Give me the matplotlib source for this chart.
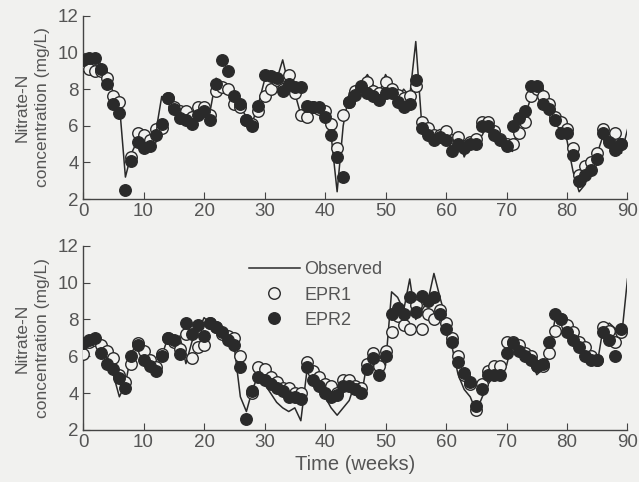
import matplotlib
matplotlib.use("Agg")
import matplotlib.pyplot as plt
import numpy as np

plt.rcParams['font.family'] = ['Liberation Sans', 'DejaVu Sans']

# --- data, weekly values ---
weeks = np.arange(0, 91)

top_observed = [9.6, 9.8, 9.9, 9.3, 8.8, 7.8, 7.2, 3.2, 4.5, 5.2,
                5.0, 5.1, 5.6, 7.6, 7.5, 7.2, 6.8, 6.5, 6.3, 6.8,
                7.0, 6.8, 8.6, 8.2, 7.8, 7.3, 7.0, 6.5, 6.2, 7.2,
                8.5, 9.0, 8.5, 9.6, 8.2, 7.8, 6.6, 6.5, 7.0, 7.0,
                6.8, 5.5, 2.4, 6.0, 7.8, 8.0, 8.3, 8.8, 8.2, 7.8,
                8.8, 8.2, 7.5, 8.0, 7.6, 10.6, 6.0, 5.8, 5.3, 5.8,
                5.5, 4.5, 5.5, 4.3, 5.0, 5.0, 5.5, 6.2, 5.5, 5.2,
                4.8, 4.6, 6.2, 6.5, 7.5, 8.2, 8.0, 7.2, 6.8, 6.0,
                5.2, 3.5, 2.4, 2.8, 3.8, 4.5, 5.5, 5.2, 4.8, 4.5,
                5.8]
top_epr1 = [9.3, 9.1, 9.0, 9.0, 8.6, 7.6, 7.3, np.nan, 4.3, 5.6,
            5.5, 5.2, 5.8, 5.9, 7.5, 7.0, 6.8, 6.8, 6.5, 7.0,
            7.0, 6.6, 7.9, 8.1, 8.0, 7.2, 7.0, 6.3, 6.1, 6.8,
            7.6, 8.0, 8.5, 8.0, 8.8, 7.8, 6.6, 6.5, 7.0, 6.9,
            6.8, 6.1, 4.8, 6.6, 7.3, 7.9, 8.0, 8.4, 7.9, 7.8,
            8.4, 8.0, 7.7, 7.5, 7.6, 8.2, 6.2, 5.9, 5.5, 5.5,
            5.7, 5.2, 5.4, 4.9, 5.1, 5.3, 6.2, 6.2, 5.7, 5.3,
            5.0, 5.0, 5.6, 6.2, 7.6, 8.0, 7.6, 7.2, 6.5, 6.2,
            5.8, 4.8, 3.3, 3.8, 4.0, 4.5, 5.8, 5.3, 5.6, 5.0,
            np.nan]
top_epr2 = [9.6, 9.7, 9.7, 9.1, 8.3, 7.2, 6.7, 2.5, 4.1, 5.1,
            4.8, 4.9, 5.5, 6.1, 7.5, 6.9, 6.4, 6.3, 6.1, 6.6,
            6.8, 6.3, 8.3, 9.6, 9.0, 7.6, 7.2, 6.3, 6.0, 7.1,
            8.8, 8.7, 8.6, 7.9, 8.3, 8.1, 8.1, 7.1, 7.0, 7.0,
            6.5, 5.5, 4.3, 3.2, 7.3, 7.7, 8.2, 7.8, 7.6, 7.4,
            7.8, 7.8, 7.3, 7.0, 7.2, 8.5, 5.9, 5.5, 5.2, 5.4,
            5.2, 4.6, 5.0, 4.8, 5.0, 5.0, 6.0, 6.0, 5.5, 5.2,
            4.9, 6.0, 6.4, 6.8, 8.2, 8.2, 7.2, 6.9, 6.3, 5.6,
            5.6, 4.4, 3.0, 3.3, 3.6, 4.2, 5.6, 5.1, 4.7, 5.0,
            np.nan]

bot_observed = [6.8, 7.0, 7.0, 6.4, 5.8, 5.0, 3.8, 4.5, 6.2, 6.7,
                6.5, 5.8, 5.2, 6.0, 7.0, 7.0, 7.1, 5.6, 6.8, 7.3,
                8.1, 7.8, 7.4, 7.2, 7.0, 6.5, 3.8, 3.0, 4.2, 5.0,
                4.5, 4.0, 3.5, 3.2, 3.0, 3.2, 2.5, 5.2, 4.8, 4.2,
                3.8, 3.2, 2.8, 3.2, 3.6, 4.6, 3.8, 5.8, 6.2, 6.0,
                5.5, 9.5, 9.2, 8.5, 10.2, 8.0, 8.5, 9.0, 10.5, 9.2,
                8.0, 6.5, 5.0, 4.2, 3.8, 3.0, 3.8, 4.5, 5.0, 5.5,
                5.5, 6.8, 6.8, 6.5, 6.0, 5.0, 5.3, 6.0, 8.0, 8.2,
                7.6, 7.3, 6.8, 6.3, 6.0, 5.6, 7.6, 7.8, 7.5, 7.0,
                10.2]
bot_epr1 = [6.1, 6.8, 6.9, 6.6, 6.3, 5.9, 5.0, 4.6, 5.6, 6.7,
            6.3, 5.8, 5.4, 6.1, 7.0, 6.8, 6.4, 7.2, 5.9, 6.5,
            6.6, 7.8, 7.6, 7.2, 7.1, 7.0, 6.0, np.nan, 4.0, 5.4,
            5.3, 4.9, 4.6, 4.3, 4.3, 4.0, 4.0, 5.7, 5.2, 4.9,
            4.5, 4.4, 4.0, 4.7, 4.7, 4.4, 4.3, 5.6, 6.2, 5.5,
            6.3, 7.3, 8.2, 7.7, 7.5, 8.8, 7.5, 8.3, 8.0, 8.5,
            7.8, 7.0, 6.0, 5.0, 4.5, 3.1, 4.5, 5.2, 5.5, 5.5,
            6.8, 6.8, 6.6, 6.2, 6.0, 5.5, 5.5, 6.2, 7.4, 8.0,
            7.7, 7.3, 6.8, 6.5, 6.0, 5.8, 7.6, 7.4, 6.8, 7.3,
            np.nan]
bot_epr2 = [6.7, 6.9, 7.0, 6.2, 5.6, 5.3, 4.8, 4.3, 6.0, 6.6,
            5.8, 5.5, 5.2, 6.0, 7.0, 6.9, 6.1, 7.8, 7.2, 7.7,
            7.1, 7.8, 7.6, 7.3, 6.9, 6.6, 5.4, 2.6, 4.1, 4.9,
            4.7, 4.5, 4.3, 4.1, 3.8, 3.8, 3.7, 5.4, 4.7, 4.4,
            4.0, 3.8, 3.9, 4.4, 4.4, 4.2, 4.0, 5.3, 5.9, 5.0,
            6.0, 8.3, 8.6, 8.3, 9.2, 8.4, 9.3, 9.0, 9.2, 8.3,
            7.5, 6.8, 5.7, 5.1, 4.6, 3.3, 4.2, 5.0, 5.0, 5.0,
            6.2, 6.7, 6.3, 6.0, 5.8, 5.5, 5.6, 6.8, 8.3, 8.0,
            7.3, 6.9, 6.5, 6.0, 5.8, 5.8, 7.3, 6.9, 6.0, 7.5,
            np.nan]

bg = '#f1f1ef'
ink = '#2a2a2a'
txt = '#555555'

fig = plt.figure(figsize=(6.39, 4.82), dpi=100, facecolor=bg)
ax_top = fig.add_axes([0.130, 0.587, 0.852, 0.380])
ax_bot = fig.add_axes([0.130, 0.108, 0.852, 0.382])


def draw_panel(ax, obs, e1, e2):
    ax.set_facecolor(bg)
    ax.plot(weeks, obs, color=ink, lw=1.1, label='Observed', zorder=2)
    ax.plot(weeks, e1, 'o', ms=8.3, mfc=bg, mec=ink, mew=1.0,
            label='EPR1', zorder=3)
    ax.plot(weeks, e2, 'o', ms=8.3, mfc=ink, mec=ink, mew=1.0,
            label='EPR2', zorder=4)
    ax.set_xlim(0, 90)
    ax.set_ylim(2, 12)
    ax.set_xticks(range(0, 91, 10))
    ax.set_yticks(range(2, 13, 2))
    for s in ['top', 'right']:
        ax.spines[s].set_visible(False)
    for s in ['left', 'bottom']:
        ax.spines[s].set_color('#444444')
        ax.spines[s].set_linewidth(1.0)
    ax.tick_params(direction='in', length=5, color='#444444',
                   labelsize=13.5, labelcolor=txt, pad=3)
    ax.set_ylabel('Nitrate-N\nconcentration (mg/L)', fontsize=12.5,
                  color=txt, labelpad=6, linespacing=1.45)


draw_panel(ax_top, top_observed, top_epr1, top_epr2)
draw_panel(ax_bot, bot_observed, bot_epr1, bot_epr2)

ax_bot.set_xlabel('Time (weeks)', fontsize=14.5, color=txt, labelpad=3)
leg = ax_bot.legend(loc='upper left', bbox_to_anchor=(0.305, 0.915),
                    frameon=False, fontsize=13, handlelength=2.8,
                    handletextpad=0.25, labelspacing=0.45, borderpad=0,
                    borderaxespad=0)
for t in leg.get_texts():
    t.set_color(txt)

fig.savefig('out.png', dpi=100, facecolor=bg)
